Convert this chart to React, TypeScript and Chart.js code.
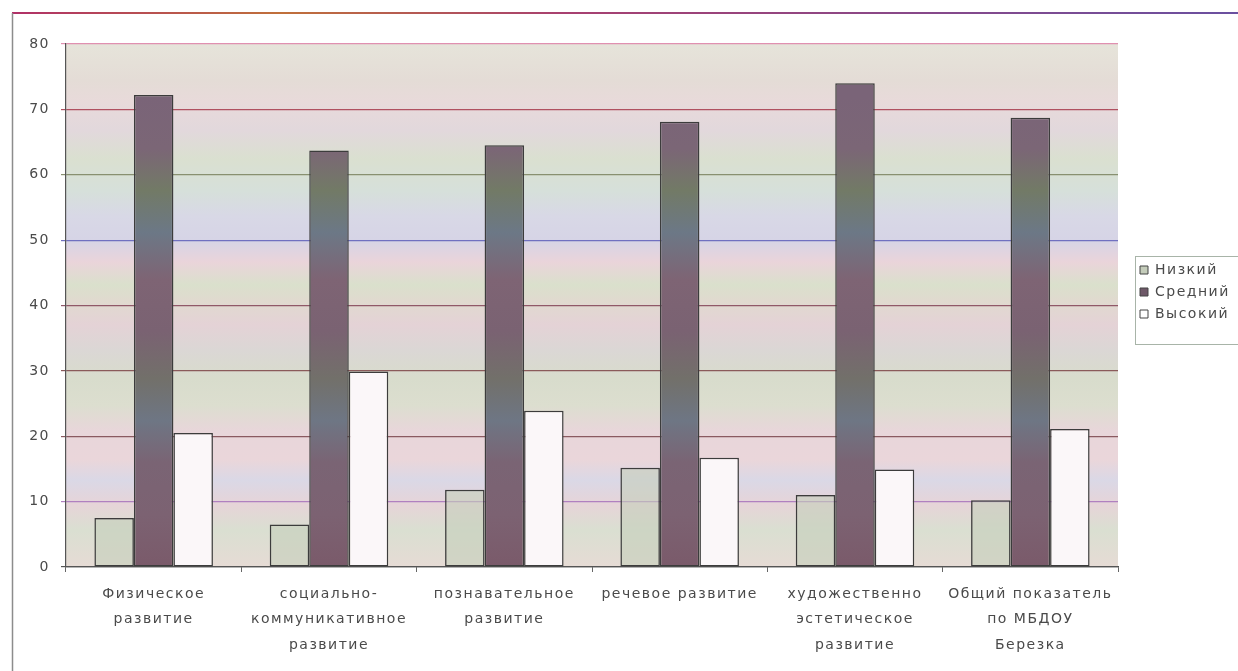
import { useEffect, useRef } from "react";
import { Chart, registerables } from "chart.js";

Chart.register(...registerables);

// ---- data ----
const categories: string[][] = [
  ["Физическое", "развитие"],
  ["социально-", "коммуникативное", "развитие"],
  ["познавательное", "развитие"],
  ["речевое развитие"],
  ["художественно", "эстетическое", "развитие"],
  ["Общий показатель", "по МБДОУ", "Березка"],
];
const seriesNames = ["Низкий", "Средний", "Высокий"];
const lowValues = [7.5, 6.5, 11.8, 15.2, 11.0, 10.2];
const midValues = [72.2, 63.7, 64.5, 68.1, 74.0, 68.7];
const highValues = [20.5, 29.9, 23.9, 16.7, 14.9, 21.1];
const yMin = 0;
const yMax = 80;
const yStep = 10;

// ---- styles ----
const FONT = '"DejaVu Sans", sans-serif';
const LETTER = "1.5px";
const TEXT = "#4a4a4a";
const BAR_BORDER = "#3c3c3c";
const lowFill = "rgba(196,206,186,0.6)";
const highFill = "#fbf7f9";
const legendFills = ["#c4ccba", "#6e5868", "#ffffff"];
const gridColors = ["#555555", "#b080c0", "#8a5a60", "#8a5a5a", "#905868", "#7070c0", "#889070", "#b05060", "#e090b0"];
const bgStops: [number, string][] = [
  [0, "#e6e4da"], [0.07, "#e4dcd6"], [0.11, "#e8dada"], [0.165, "#e2d8dc"],
  [0.22, "#dae0d0"], [0.28, "#d6e0da"], [0.33, "#d8d8e6"], [0.375, "#d6d4e6"],
  [0.417, "#eAd4da"], [0.46, "#dae0cc"], [0.49, "#e0dacf"], [0.537, "#e4d2d6"],
  [0.585, "#dbd7d5"], [0.64, "#d8dccc"], [0.69, "#dcdecf"], [0.74, "#e8d6da"],
  [0.795, "#ead6da"], [0.834, "#dad8e6"], [0.88, "#e6d4d8"], [0.93, "#dadfd1"],
  [1, "#e6dbd5"],
];
const midStops: [number, string][] = [
  [0, "#7a6478"], [0.1, "#7a6478"], [0.2, "#7b6676"], [0.28, "#727a66"],
  [0.36, "#6c7886"], [0.45, "#7e6474"], [0.55, "#7a6272"], [0.64, "#72706a"],
  [0.72, "#6e7684"], [0.8, "#7a6474"], [0.9, "#7c6272"], [1, "#7a5a6a"],
];

const setSpacing = (chart: any) => {
  try { (chart.ctx as any).letterSpacing = LETTER; } catch (e) { /* ignore */ }
};

const scanPlugin = {
  id: "scanLook",
  beforeUpdate: setSpacing,
  beforeLayout: setSpacing,
  afterLayout(chart: any) {
    const lg = chart.legend;
    if (!lg) return;
    lg.left = 1132;
    lg.width = 160;
    lg.right = lg.left + lg.width;
    lg.top = 255;
    lg.height = 100;
    lg.bottom = lg.top + lg.height;
  },
  beforeDraw(chart: any) {
    const { ctx, chartArea: a, width, height } = chart;
    setSpacing(chart);
    ctx.save();
    ctx.fillStyle = "#ffffff";
    ctx.fillRect(0, 0, width, height);
    const g = ctx.createLinearGradient(0, a.top, 0, a.bottom);
    bgStops.forEach(([o, c]) => g.addColorStop(o, c));
    ctx.fillStyle = g;
    ctx.fillRect(a.left, a.top, a.right - a.left, a.bottom - a.top);
    const tg = ctx.createLinearGradient(12, 0, width, 0);
    tg.addColorStop(0, "#b03068");
    tg.addColorStop(0.22, "#c0703a");
    tg.addColorStop(0.45, "#a84070");
    tg.addColorStop(1, "#6a50a0");
    ctx.strokeStyle = tg;
    ctx.lineWidth = 2;
    ctx.beginPath();
    ctx.moveTo(12, 13);
    ctx.lineTo(width, 13);
    ctx.stroke();
    ctx.strokeStyle = "#8c8c8c";
    ctx.lineWidth = 1.5;
    ctx.beginPath();
    ctx.moveTo(12.5, 13);
    ctx.lineTo(12.5, height);
    ctx.stroke();
    ctx.restore();
  },
  afterDraw(chart: any) {
    const { ctx } = chart;
    ctx.save();
    ctx.strokeStyle = "#a8b4a8";
    ctx.lineWidth = 1;
    ctx.strokeRect(1135.5, 256.5, 140, 88);
    ctx.restore();
  },
};

export default function App() {
  const ref = useRef<HTMLCanvasElement | null>(null);

  useEffect(() => {
    if (!ref.current) return;
    const midFill = (c: any) => {
      const a = c.chart.chartArea;
      if (!a) return "#7a6478";
      const g = c.chart.ctx.createLinearGradient(0, a.top, 0, a.bottom);
      midStops.forEach(([o, col]) => g.addColorStop(o, col));
      return g;
    };
    const common = {
      borderColor: BAR_BORDER,
      borderWidth: 1.5,
      borderSkipped: false as const,
      categoryPercentage: 0.676,
      barPercentage: 1,
    };
    const chart = new Chart(ref.current, {
      type: "bar",
      data: {
        labels: categories,
        datasets: [
          { label: seriesNames[0], data: lowValues, backgroundColor: lowFill, ...common },
          { label: seriesNames[1], data: midValues, backgroundColor: midFill, ...common },
          { label: seriesNames[2], data: highValues, backgroundColor: highFill, ...common },
        ],
      },
      options: {
        animation: false,
        responsive: true,
        maintainAspectRatio: false,
        events: [],
        layout: { padding: { left: 0, top: 44, right: 40, bottom: 0 } },
        plugins: {
          tooltip: { enabled: false },
          legend: {
            position: "right",
            align: "start",
            maxWidth: 80,
            labels: {
              boxWidth: 8,
              boxHeight: 8,
              padding: 8,
              color: TEXT,
              font: { family: FONT, size: 14 },
              generateLabels(ch: any) {
                const items = (Chart.defaults.plugins.legend.labels as any).generateLabels(ch);
                return items.map((it: any, i: number) => ({
                  ...it,
                  fillStyle: legendFills[i],
                  strokeStyle: "#444",
                  lineWidth: 1,
                  fontColor: TEXT,
                }));
              },
            },
          },
        },
        scales: {
          x: {
            afterFit: (s: any) => { s.height = 104; },
            grid: { display: true, drawOnChartArea: false, drawTicks: true, tickLength: 5, color: "#666", offset: true },
            border: { display: true, color: "#555", width: 1.2 },
            ticks: {
              color: TEXT,
              padding: 10,
              maxRotation: 0,
              autoSkip: false,
              font: { family: FONT, size: 14, lineHeight: 1.8 },
            },
          },
          y: {
            min: yMin,
            max: yMax,
            afterFit: (s: any) => { s.width = 66; },
            grid: {
              drawTicks: true,
              tickLength: 5,
              lineWidth: 1.2,
              color: (c: any) => gridColors[c.index] ?? "#777",
            },
            border: { display: true, color: "#555", width: 1.2 },
            ticks: {
              stepSize: yStep,
              color: TEXT,
              padding: 11,
              font: { family: FONT, size: 14 },
            },
          },
        },
      },
      plugins: [scanPlugin],
    } as any);
    return () => chart.destroy();
  }, []);

  return (
    <div
      style={{
        position: "fixed",
        left: 0,
        top: 0,
        width: 1238,
        height: 671,
        overflow: "hidden",
        background: "#fff",
      }}
    >
      <canvas ref={ref} />
    </div>
  );
}
